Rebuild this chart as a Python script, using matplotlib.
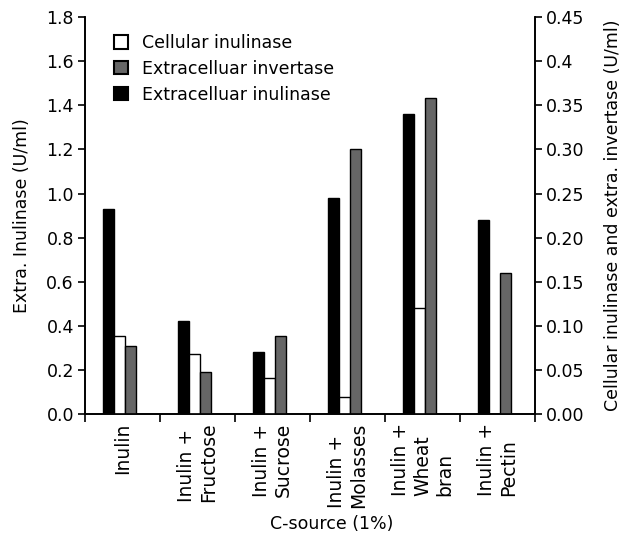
import numpy as np
import matplotlib
matplotlib.use("Agg")
import matplotlib.pyplot as plt
from matplotlib.patches import Patch

plt.rcParams["font.family"] = ["DejaVu Sans"]
plt.rcParams["font.size"] = 12.5

# data
sources = ["Inulin", "Inulin +\nFructose", "Inulin +\nSucrose", "Inulin +\nMolasses",
           "Inulin +\nWheat\nbran", "Inulin +\nPectin"]
extra_inulinase = [0.93, 0.42, 0.28, 0.98, 1.36, 0.88]          # left axis
cell_inulinase = [0.088, 0.068, 0.041, 0.019, 0.12, 0.0]        # right axis
extra_invertase = [0.077, 0.048, 0.088, 0.30, 0.358, 0.16]      # right axis

right_ticks = [0.0, 0.05, 0.10, 0.15, 0.20, 0.25, 0.30, 0.35, 0.40, 0.45]
right_labels = ["0.00", "0.05", "0.10", "0.15", "0.20", "0.25", "0.30", "0.35", "0.4", "0.45"]

GRAY = "#666666"

fig = plt.figure(figsize=(6.25, 5.35), dpi=100)
ax = fig.add_axes([0.136, 0.226, 0.72, 0.742])
ax2 = ax.twinx()

x = np.arange(len(sources)) + 0.5
w = 0.147
shift = -0.035
ax.bar(x + shift - w, extra_inulinase, w, color="black", edgecolor="black", lw=1)
ax2.bar(x + shift, cell_inulinase, w, color="white", edgecolor="black", lw=1)
ax2.bar(x + shift + w, extra_invertase, w, color=GRAY, edgecolor="black", lw=1)

ax.set_xlim(0, len(sources))
ax.set_ylim(0, 1.8)
ax2.set_ylim(0, 0.45)
ax.set_yticks(np.arange(0, 1.81, 0.2))
ax.set_yticklabels([f"{v:.1f}" for v in np.arange(0, 1.81, 0.2)])
ax2.set_yticks(right_ticks)
ax2.set_yticklabels(right_labels)

ax.set_xticks(np.arange(len(sources) + 1))
ax.set_xticklabels([])
ax.set_xticks(x, minor=True)
ax.set_xticklabels(sources, minor=True, rotation=90, va="top", ha="center",
                   multialignment="left", fontsize=13.5)
ax.tick_params(axis="x", which="minor", length=0, pad=6)
ax.tick_params(axis="x", which="major", length=6, width=1.2, direction="out")
ax.tick_params(axis="y", length=5, width=1.2, direction="out", pad=3)
ax2.tick_params(axis="y", length=5, width=1.2, direction="out", pad=3)

for a in (ax, ax2):
    a.spines["top"].set_visible(False)
    for s in ("left", "right", "bottom"):
        a.spines[s].set_linewidth(1.2)

ax.set_ylabel("Extra. Inulinase (U/ml)", labelpad=11)
ax2.set_ylabel("Cellular inulinase and extra. invertase (U/ml)", labelpad=14)
ax.set_xlabel("C-source (1%)")
ax.xaxis.set_label_coords(0.549, -0.255)

handles = [Patch(facecolor="white", edgecolor="black", lw=1.5),
           Patch(facecolor=GRAY, edgecolor="black", lw=1.5),
           Patch(facecolor="black", edgecolor="black", lw=1.5)]
labels = ["Cellular inulinase", "Extracelluar invertase", "Extracelluar inulinase"]
ax2.legend(handles, labels, loc="upper left", bbox_to_anchor=(0.03, 0.997),
           frameon=False, handlelength=0.8, handleheight=0.8, handletextpad=0.8,
           labelspacing=0.45, fontsize=12.5)

fig.savefig("out.png", dpi=100)
